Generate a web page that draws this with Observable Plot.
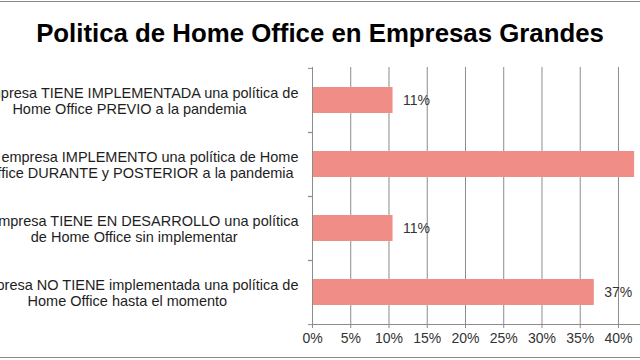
<!DOCTYPE html>
<html>
<head>
<meta charset="utf-8">
<script src="https://cdn.jsdelivr.net/npm/d3@7"></script>
<script src="https://cdn.jsdelivr.net/npm/@observablehq/plot@0.6"></script>
<style>
  html, body { margin: 0; padding: 0; background: #fff; overflow: hidden; width: 640px; height: 360px; }
  #frame { position: relative; width: 640px; height: 360px; }
  #topline { position: absolute; left: 0; top: 1px; width: 640px; height: 0; border-top: 1.5px solid #8a8a8a; }
  #bottomline { position: absolute; left: 0; top: 357px; width: 640px; height: 0; border-top: 1.5px solid #8a8a8a; }
  #title { height: 60px; line-height: 66px; text-align: center; font-family: "Liberation Sans", Arial, sans-serif; font-weight: bold; font-size: 25.8px; color: #000; }
  #chart svg { display: block; }
</style>
</head>
<body>
<div id="frame">
  <div id="topline"></div>
  <div id="title">Politica de Home Office en Empresas Grandes</div>
  <div id="chart"></div>
  <div id="bottomline"></div>
</div>
<script>
const categories = [
  "La empresa TIENE IMPLEMENTADA una política de\nHome Office PREVIO a la pandemia",
  "La empresa IMPLEMENTO una política de Home\nOffice DURANTE y POSTERIOR a la pandemia",
  "La empresa TIENE EN DESARROLLO una política\nde Home Office sin implementar",
  "La empresa NO TIENE implementada una política de\nHome Office hasta el momento"
];
const values = [10.53, 42.11, 10.53, 36.84];
const xTicks = [0, 5, 10, 15, 20, 25, 30, 35, 40];

const data = categories.map((c, i) => ({category: c, value: values[i], label: Math.round(values[i]) + "%"}));

const W = 640, H = 300, mTop = 7, mBottom = 36, mLeft = 312;
const labelGap = 14;          // gap between label block's right edge and the axis
const labelDx = -179;         // anchor offset of the centred label text
const xMax = 42.88;
const step = (H - mTop - mBottom) / categories.length;
const font = "Liberation Sans, Arial, sans-serif";

const chart = Plot.plot({
  width: W,
  height: H,
  marginTop: mTop,
  marginBottom: mBottom,
  marginLeft: mLeft,
  marginRight: 0,
  style: {fontFamily: font, fontSize: "14px", color: "#222", background: "#fff"},
  x: {domain: [0, xMax], label: null},
  y: {domain: categories, paddingInner: 0.6, paddingOuter: 0.3, label: null},
  marks: [
    Plot.gridX(xTicks, {stroke: "#8c8c8c", strokeOpacity: 1}),
    Plot.barX(data, {y: "category", x: "value", fill: "#f08d86"}),
    // labels that fall past the visible edge are clipped away in the original
    Plot.text(data.filter(d => d.value < xMax - 3), {y: "category", x: "value", text: "label", textAnchor: "start", dx: 10, fill: "#333", fontSize: 14}),
    Plot.ruleX([0], {stroke: "#8c8c8c"}),
    Plot.frame({anchor: "bottom", stroke: "#8c8c8c"}),
    Plot.axisX({ticks: xTicks, tickFormat: d => d + "%", tickSize: 4, tickPadding: 5, stroke: "#8c8c8c", fill: "#333", fontSize: 14, label: null}),
    Plot.axisY({tickSize: 4, tickPadding: 0, text: null, dy: -step / 2, stroke: "#8c8c8c", label: null}),
    Plot.axisY({tickSize: 4, tickPadding: 0, text: null, dy: step / 2, stroke: "#8c8c8c", label: null}),
    Plot.axisY({tickSize: 0, tickPadding: 0, textAnchor: "middle", dx: labelDx, lineHeight: 1.12, fill: "#1e1e1e", fontSize: 14.5, tickFormat: d => d, label: null, className: "ylabels"})
  ]
});
document.getElementById("chart").appendChild(chart);

// Excel-style wrapped labels: each block is right-aligned to the axis, lines centred within the block
const anchorX = mLeft + labelDx;
const rightEdge = mLeft - labelGap;
chart.querySelectorAll(".ylabels text").forEach(t => {
  const spans = t.querySelectorAll("tspan");
  const lines = spans.length ? Array.from(spans) : [t];
  const maxW = Math.max(...lines.map(s => s.getComputedTextLength()));
  const delta = (rightEdge - maxW / 2) - anchorX;
  t.setAttribute("transform", (t.getAttribute("transform") || "") + ` translate(${delta},0)`);
});
</script>
</body>
</html>
